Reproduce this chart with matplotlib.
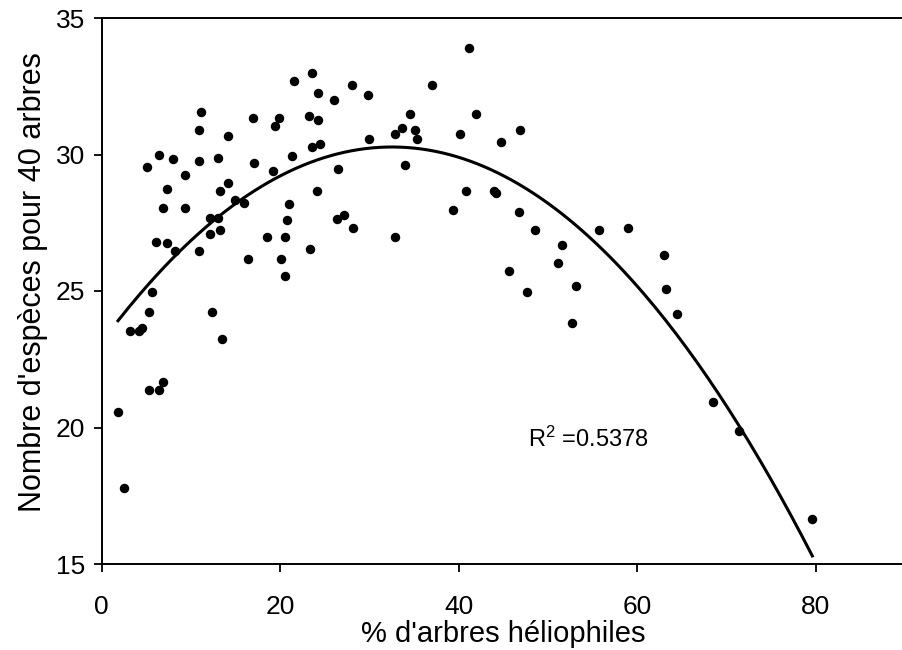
import matplotlib
matplotlib.use('Agg')
import matplotlib.pyplot as plt
import numpy as np

plt.rcParams.update({'font.size': 19, 'font.family': ['Liberation Sans', 'DejaVu Sans'],
                     'mathtext.fontset': 'custom', 'mathtext.rm': 'Liberation Sans',
                     'mathtext.default': 'regular'})

# % d'arbres heliophiles
pct_helio = [11.1, 10.9, 17.0, 19.9, 19.4, 14.2, 6.47, 8.04, 5.13, 10.88,
             13.08, 17.04, 21.37, 19.2, 9.3, 7.33, 14.17, 13.3, 6.89, 9.32,
             15.0, 15.96, 21.0, 12.19, 13.08, 20.8, 12.19, 13.3, 6.07, 7.37,
             8.23, 10.88, 18.57, 20.55, 16.37, 20.1, 20.55, 5.62, 5.35, 12.4,
             3.19, 4.23, 4.54, 13.5, 5.35, 6.47, 6.92, 1.85, 2.52, 41.2,
             23.6, 21.6, 24.3, 28.0, 26.0, 29.8, 37.0, 23.2, 24.3, 34.6,
             41.9, 33.7, 35.1, 32.9, 35.3, 30.0, 40.1, 23.6, 24.5, 33.95,
             26.5, 24.1, 40.8, 39.4, 27.1, 26.4, 46.9, 44.7, 43.9, 44.2,
             46.7, 48.5, 55.7, 59.0, 51.6, 51.1, 45.6, 53.1, 47.6, 52.65,
             62.96, 63.2, 64.5, 68.5, 71.4, 79.6, 23.4, 28.2, 32.9]
# nombre d'especes pour 40 arbres
nb_especes = [31.54, 30.90, 31.32, 31.32, 31.05, 30.68, 29.97, 29.83, 29.54, 29.76,
              29.89, 29.68, 29.96, 29.40, 29.24, 28.75, 28.97, 28.67, 28.04, 28.04,
              28.33, 28.24, 28.18, 27.68, 27.68, 27.60, 27.10, 27.25, 26.81, 26.75,
              26.45, 26.45, 26.96, 26.96, 26.17, 26.17, 25.54, 24.95, 24.23, 24.23,
              23.53, 23.53, 23.65, 23.24, 21.36, 21.36, 21.65, 20.58, 17.79, 33.90,
              32.98, 32.69, 32.26, 32.55, 31.98, 32.19, 32.55, 31.40, 31.27, 31.49,
              31.49, 30.97, 30.91, 30.75, 30.55, 30.55, 30.75, 30.26, 30.40, 29.62,
              29.48, 28.67, 28.67, 27.96, 27.78, 27.65, 30.91, 30.46, 28.67, 28.59,
              27.90, 27.24, 27.24, 27.31, 26.67, 26.02, 25.74, 25.17, 24.95, 23.81,
              26.31, 25.08, 24.16, 20.94, 19.88, 16.64, 26.53, 27.31, 26.96]

x = np.array(pct_helio)
y = np.array(nb_especes)

# polynomial trend line (order 2)
coef = np.polyfit(x, y, 2)
xs = np.linspace(x.min(), x.max(), 200)
ys = np.polyval(coef, xs)

fig = plt.figure(figsize=(9.02, 6.5), dpi=100)
ax = fig.add_axes([101.5 / 902, 1 - 564 / 650, 8.93 * 90 / 902, 546 / 650])

ax.plot(x, y, 'o', color='black', markersize=5.8)
ax.plot(xs, ys, color='black', linewidth=2.2)

ax.set_xlim(0, 90)
ax.set_ylim(15, 35)
ax.set_xticks([0, 20, 40, 60, 80])
ax.set_yticks([15, 20, 25, 30, 35])
ax.tick_params(direction='out', length=6, width=1.3, labelsize=19)
ax.tick_params(axis='x', pad=16)
ax.tick_params(axis='y', pad=6)
ax.spines['right'].set_visible(False)
for s in ['left', 'bottom', 'top']:
    ax.spines[s].set_linewidth(1.4)

ax.text(47.8, 19.55, 'R$^2$ =0.5378', va='center', ha='left', fontsize=17)

ax.set_xlabel("% d'arbres héliophiles", fontsize=21, labelpad=1)
ax.set_ylabel("Nombre d'espèces pour 40 arbres", fontsize=22)
ax.yaxis.set_label_coords(-0.066, 0.516)

plt.savefig('out.png', dpi=100)
